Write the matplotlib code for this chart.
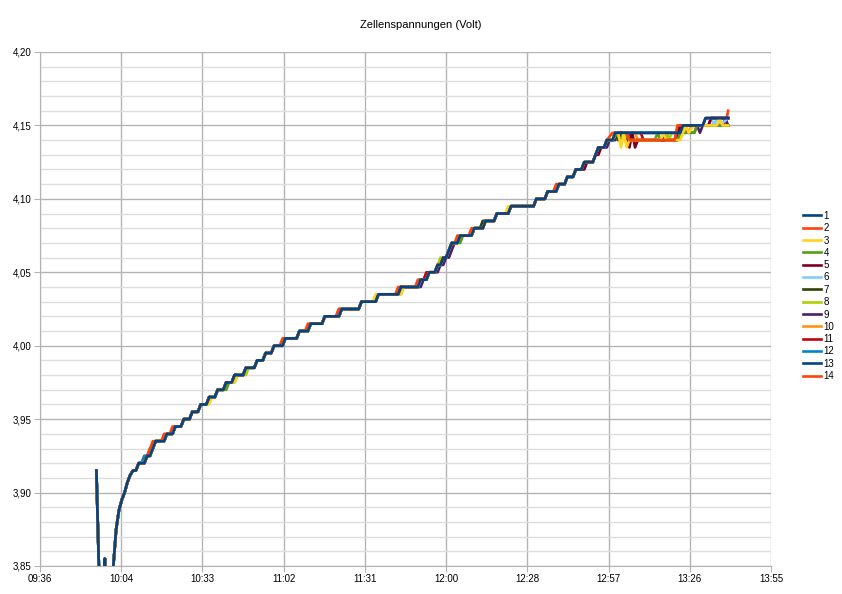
import math
import numpy as np
import matplotlib
matplotlib.use("Agg")
import matplotlib.pyplot as plt
from matplotlib.ticker import FixedLocator, MultipleLocator, FuncFormatter

plt.rcParams["font.family"] = ["Liberation Sans", "DejaVu Sans"]

series_names = [str(i) for i in range(1, 15)]
series_colors = ["#004586", "#ff420e", "#ffd320", "#579d1c", "#7e0021", "#83caff",
                 "#314004", "#aecf00", "#4b1f6f", "#ff950e", "#c5000b", "#0084d1",
                 "#004586", "#ff420e"]

# first samples, same for all cells (drop below the axis, then recovery)
start_time = ["09:56", "09:57", "09:58", "09:59", "10:00", "10:01", "10:02", "10:03",
              "10:04", "10:05", "10:06", "10:07", "10:08", "10:09"]
start_volt = [3.915, 3.84, 3.70, 3.855, 3.70, 3.76, 3.85, 3.875,
              3.888, 3.895, 3.90, 3.907, 3.912, 3.915]

# charging staircase: time at which each level is reached
step_time = ["10:11", "10:14", "10:16", "10:17", "10:21", "10:24", "10:27", "10:30",
             "10:33", "10:36", "10:39", "10:42", "10:45", "10:49", "10:53", "10:56",
             "10:59", "11:03", "11:08", "11:12", "11:17", "11:23", "11:30", "11:36",
             "11:44", "11:51", "11:54", "11:57", "11:59", "12:01", "12:02", "12:05",
             "12:10", "12:14", "12:18", "12:23", "12:32", "12:36", "12:40", "12:43",
             "12:46", "12:49", "12:53", "12:54", "12:57", "13:00"]
step_volt = [3.92, 3.925, 3.93, 3.935, 3.94, 3.945, 3.95, 3.955,
             3.96, 3.965, 3.97, 3.975, 3.98, 3.985, 3.99, 3.995,
             4.00, 4.005, 4.01, 4.015, 4.02, 4.025, 4.03, 4.035,
             4.04, 4.045, 4.05, 4.055, 4.06, 4.065, 4.07, 4.075,
             4.08, 4.085, 4.09, 4.095, 4.10, 4.105, 4.11, 4.115,
             4.12, 4.125, 4.13, 4.135, 4.14, 4.145]

# levels a cell reaches one minute earlier / later than the rest
early = {
    2: [3.93, 3.935, 3.94, 3.945, 4.005, 4.015, 4.025, 4.045, 4.08, 4.11],
    14: [3.925, 4.04, 4.075, 4.135],
    3: [4.035, 4.095],
    8: [4.06, 4.07],
    9: [4.025],
    7: [4.085],
    12: [3.925, 3.93],
    11: [4.05],
}
late = {
    3: [3.965, 3.98, 4.04],
    4: [3.975, 3.98, 4.075],
    8: [3.975, 3.985],
    9: [4.045, 4.055, 4.06, 4.065, 4.07, 4.14],
    10: [4.04],
    5: [4.125, 4.135],
}

# end of the charge, where the cells wander between levels
tails = {
    1: [("13:00", 4.145), ("13:23", 4.145), ("13:24", 4.15), ("13:31", 4.15), ("13:32", 4.155), ("13:40", 4.155)],
    2: [("12:59", 4.145), ("13:04", 4.145), ("13:05", 4.14), ("13:21", 4.14), ("13:22", 4.15), ("13:31", 4.15),
        ("13:32", 4.155), ("13:39", 4.155)],
    3: [("13:00", 4.145), ("13:01", 4.145), ("13:02", 4.135), ("13:03", 4.145), ("13:04", 4.135), ("13:05", 4.14),
        ("13:16", 4.14), ("13:17", 4.145), ("13:18", 4.14), ("13:23", 4.14), ("13:24", 4.145), ("13:25", 4.15),
        ("13:26", 4.145), ("13:28", 4.15), ("13:36", 4.15), ("13:37", 4.155), ("13:38", 4.15), ("13:40", 4.15)],
    4: [("13:00", 4.145), ("13:02", 4.14), ("13:03", 4.145), ("13:05", 4.14), ("13:14", 4.14), ("13:15", 4.145),
        ("13:16", 4.14), ("13:22", 4.14), ("13:23", 4.145), ("13:28", 4.145), ("13:29", 4.15), ("13:40", 4.15)],
    5: [("13:00", 4.145), ("13:04", 4.145), ("13:05", 4.135), ("13:06", 4.145), ("13:07", 4.135), ("13:08", 4.14),
        ("13:22", 4.14), ("13:23", 4.15), ("13:33", 4.15), ("13:34", 4.155), ("13:40", 4.155)],
    6: [("13:00", 4.145), ("13:23", 4.145), ("13:24", 4.15), ("13:33", 4.15), ("13:34", 4.155), ("13:35", 4.15),
        ("13:36", 4.155), ("13:37", 4.15), ("13:40", 4.155)],
    7: [("13:00", 4.145), ("13:01", 4.14), ("13:02", 4.145), ("13:22", 4.145), ("13:23", 4.15), ("13:40", 4.15)],
    8: [("13:00", 4.145), ("13:01", 4.14), ("13:03", 4.145), ("13:18", 4.145), ("13:19", 4.14), ("13:20", 4.145),
        ("13:24", 4.145), ("13:25", 4.15), ("13:40", 4.15)],
    9: [("13:00", 4.14), ("13:02", 4.145), ("13:05", 4.145), ("13:06", 4.14), ("13:17", 4.14), ("13:18", 4.145),
        ("13:19", 4.14), ("13:22", 4.14), ("13:23", 4.145), ("13:28", 4.145), ("13:29", 4.15), ("13:30", 4.145),
        ("13:31", 4.15), ("13:38", 4.15), ("13:39", 4.155), ("13:40", 4.15)],
    10: [("13:00", 4.145), ("13:07", 4.145), ("13:08", 4.14), ("13:22", 4.14), ("13:23", 4.15), ("13:26", 4.145),
         ("13:27", 4.15), ("13:40", 4.15)],
    11: [("13:00", 4.145), ("13:05", 4.14), ("13:06", 4.145), ("13:09", 4.145), ("13:10", 4.14), ("13:21", 4.14),
         ("13:22", 4.145), ("13:24", 4.145), ("13:25", 4.15), ("13:33", 4.15), ("13:34", 4.155), ("13:40", 4.155)],
    12: [("13:00", 4.145), ("13:24", 4.145), ("13:25", 4.15), ("13:33", 4.15), ("13:34", 4.155), ("13:40", 4.155)],
    13: [("13:00", 4.145), ("13:23", 4.145), ("13:24", 4.15), ("13:31", 4.15), ("13:32", 4.155), ("13:40", 4.155)],
    14: [("13:00", 4.145), ("13:22", 4.145), ("13:23", 4.15), ("13:39", 4.15), ("13:40", 4.16)],
}


def minutes(hhmm):
    h, m = hhmm.split(":")
    return int(h) * 60 + int(m)


def cell_curve(n):
    t = [minutes(s) for s in start_time]
    v = list(start_volt)
    prev = t[-1]
    for s, level in zip(step_time, step_volt):
        m = minutes(s)
        if level in early.get(n, []):
            m -= 1
        if level in late.get(n, []):
            m += 1
        m = max(m, prev + 1)
        if m - 1 > prev:
            t.append(m - 1)
            v.append(v[-1])
        t.append(m)
        v.append(level)
        prev = m
    tail_t = [minutes(s) for s, _ in tails[n]]
    keep = [i for i in range(len(t)) if t[i] < tail_t[0]]
    t = [t[i] for i in keep] + tail_t
    v = [v[i] for i in keep] + [x for _, x in tails[n]]
    return np.array(t), np.array(v)


def clock(x, pos=None):
    total = math.floor(round(x, 6))
    return f"{total // 60:02d}:{total % 60:02d}"


fig = plt.figure(figsize=(8.42, 5.94), dpi=100)
ax = fig.add_axes([40 / 842, 1 - 566 / 594, 731 / 842, 514 / 594])

lines = {}
for n in range(14, 0, -1):   # cell 1 ends up on top
    t, v = cell_curve(n)
    lines[n], = ax.plot(t, v, color=series_colors[n - 1], lw=1.9, label=series_names[n - 1])

x0, x1 = 576, 835.2   # 09:36 ... 13:55 (0.40 .. 0.58 day)
ax.set_xlim(x0, x1)
ax.set_ylim(3.85, 4.20)
ax.xaxis.set_major_locator(FixedLocator(np.linspace(x0, x1, 10)))
ax.xaxis.set_major_formatter(FuncFormatter(clock))
ax.yaxis.set_major_locator(MultipleLocator(0.05))
ax.yaxis.set_minor_locator(MultipleLocator(0.01))
ax.yaxis.set_major_formatter(FuncFormatter(lambda y, p: f"{y:.2f}".replace(".", ",")))

grid_c = "#b3b3b3"
ax.grid(which="major", color=grid_c, lw=1, zorder=0)
ax.grid(which="minor", axis="y", color="#dddddd", lw=1, zorder=0)
ax.set_axisbelow(True)
for side in ["top", "right"]:
    ax.spines[side].set_visible(False)
for side in ["left", "bottom"]:
    ax.spines[side].set_color(grid_c)
ax.tick_params(which="major", length=4, color=grid_c, labelsize=7, pad=2)
ax.tick_params(which="minor", length=0)

fig.text(0.5, 1 - 25 / 594, "Zellenspannungen (Volt)", ha="center", va="center", fontsize=8)

handles = [lines[n] for n in range(1, 15)]
fig.legend(handles, series_names, loc="center left", bbox_to_anchor=(803 / 842, 1 - 296 / 594),
           frameon=False, fontsize=7, handlelength=1.9, handletextpad=0.2, labelspacing=0.24,
           borderpad=0, borderaxespad=0)

fig.savefig("out.png", dpi=100)
